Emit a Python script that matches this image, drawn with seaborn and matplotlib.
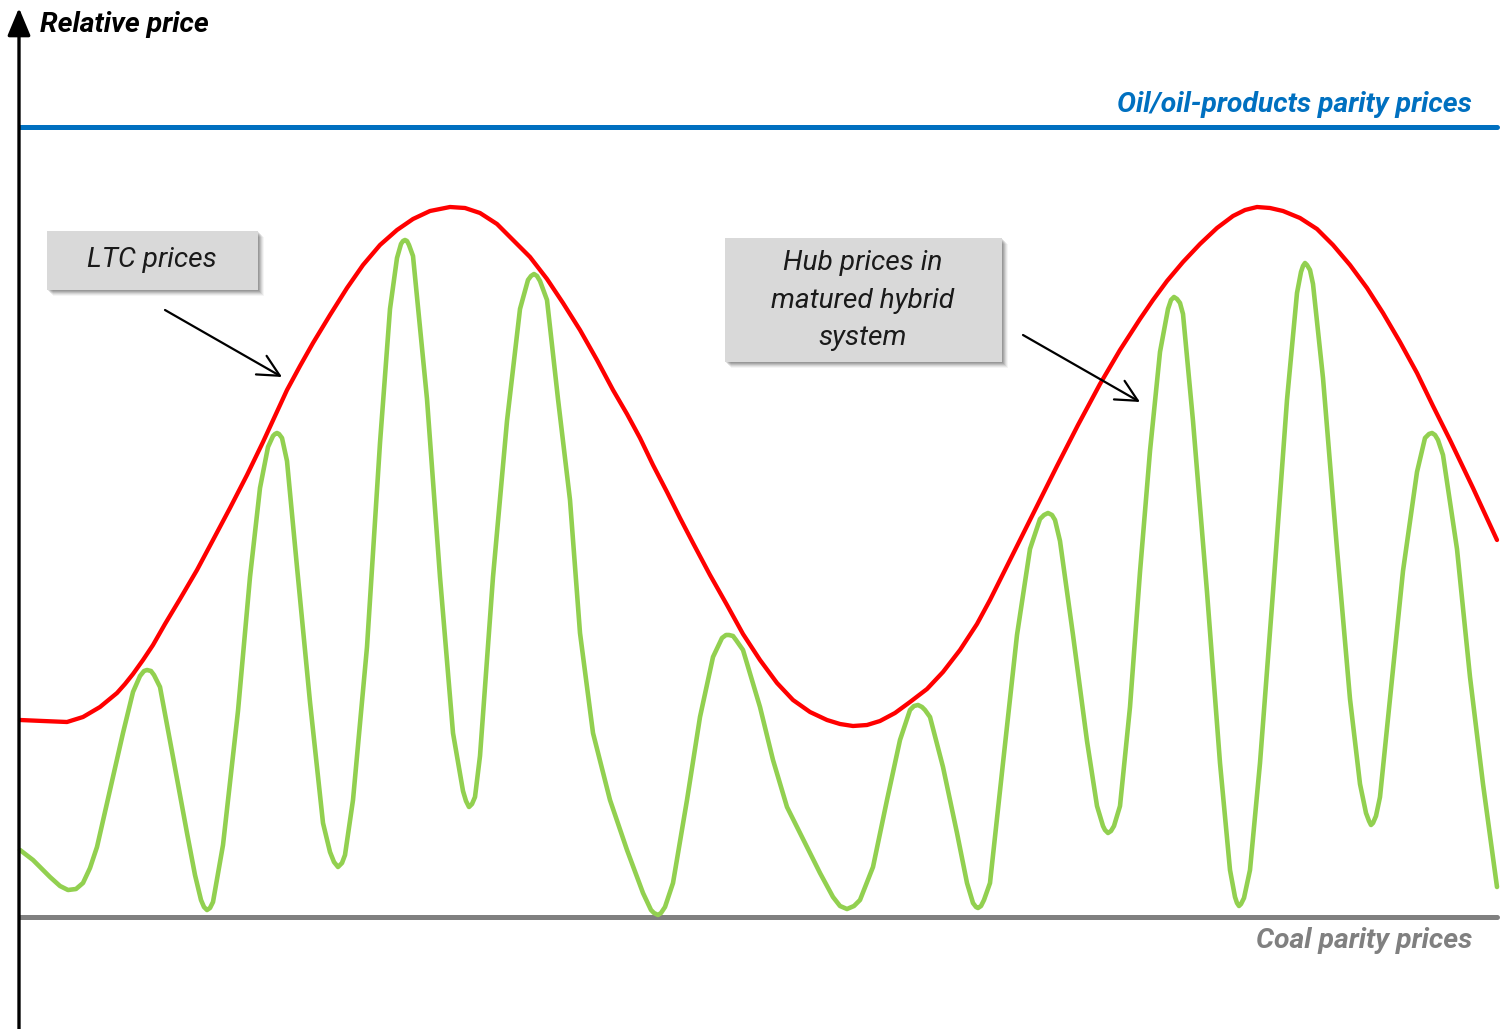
import matplotlib
matplotlib.use("Agg")
import matplotlib.pyplot as plt
from matplotlib import font_manager as fm
from matplotlib.patches import Rectangle
import pandas as pd
import seaborn as sns

# ---------------- data (relative price, coal parity = 0) ----------------
COAL_PARITY = 0
OIL_PARITY = 790

LTC_X = [20, 43, 67, 83, 100, 117, 125, 133, 143, 153, 165, 180, 197, 213, 230, 247,
         263, 275, 287, 300, 313, 330, 347, 363, 380, 397, 413, 430, 450, 465, 480,
         497, 513, 530, 547, 563, 580, 597, 613, 627, 640, 653, 667, 680, 693, 710,
         727, 743, 760, 777, 793, 810, 827, 840, 853, 867, 880, 895, 910, 927, 943,
         960, 977, 990, 1000, 1023, 1057, 1078, 1100, 1120, 1140, 1153, 1167, 1183,
         1200, 1217, 1233, 1245, 1257, 1270, 1283, 1300, 1317, 1333, 1350, 1367,
         1383, 1400, 1417, 1433, 1450, 1473, 1497]
LTC_PRICE = [197, 196, 195, 200, 210, 224, 233, 243, 257, 272, 293, 318, 347, 377, 409, 442,
             475, 501, 527, 551, 574, 602, 629, 652, 672, 687, 698, 706, 710, 709, 704,
             693, 677, 660, 638, 614, 587, 557, 527, 503, 479, 452, 425, 399, 374, 342,
             312, 283, 257, 234, 217, 205, 197, 193, 191, 192, 196, 204, 215, 228, 245,
             267, 293, 317, 337, 383, 451, 492, 533, 567, 598, 617, 636, 655,
             673, 689, 701, 707, 710, 709, 706, 699, 688, 672, 652, 629,
             604, 575, 544, 511, 477, 429, 377]

HUB_X = [20, 33, 50, 60, 68, 76, 83, 90, 97, 110, 123, 133, 140, 144, 147, 151, 154, 160,
         173, 187, 195, 201, 204, 207, 210, 213, 223, 238, 250, 260, 268, 273, 275, 277,
         279, 282, 287, 297, 310, 323, 330, 334, 338, 342, 345, 353, 367, 380, 390, 397,
         401, 403, 405, 407, 409, 413, 427, 440, 453, 463, 466, 469, 472, 475, 480, 493,
         507, 520, 528, 531, 534, 537, 540, 547, 558, 570, 580, 593, 610, 627, 643, 651,
         654, 658, 661, 665, 673, 687, 700, 713, 722, 726, 729, 733, 736, 743, 760, 773,
         787, 800, 820, 833, 840, 847, 854, 860, 873, 887, 900, 910, 914, 918, 922, 925,
         930, 943, 957, 967, 973, 976, 978, 981, 984, 990, 1003, 1017, 1030, 1040, 1044,
         1048, 1052, 1055, 1060, 1073, 1087, 1097, 1103, 1105, 1108, 1111, 1114, 1120,
         1130, 1140, 1150, 1160, 1168, 1171, 1174, 1177, 1180, 1183, 1193, 1207, 1220,
         1230, 1235, 1237, 1239, 1241, 1244, 1250, 1260, 1273, 1287, 1297, 1301, 1303,
         1305, 1307, 1310, 1313, 1323, 1337, 1350, 1360, 1366, 1369, 1371, 1373, 1376,
         1380, 1390, 1403, 1417, 1425, 1429, 1432, 1435, 1438, 1443, 1457, 1470, 1483, 1497]
HUB_PRICE = [67, 57, 40, 31, 27, 28, 34, 49, 70, 127, 184, 225, 241, 246, 247, 246, 242, 230,
             160, 84, 42, 17, 10, 7, 9, 15, 72, 206, 340, 429, 470, 481, 483, 484,
             483, 479, 456, 350, 215, 94, 65, 55, 50, 54, 62, 117, 270, 474, 608, 659,
             673, 676, 677, 676, 672, 661, 518, 340, 184, 126, 116, 110, 113, 120, 161, 340,
             496, 608, 637, 641, 643, 641, 636, 617, 518, 417, 284, 184, 117, 67, 24, 7,
             4, 2, 4, 10, 34, 117, 200, 260, 279, 282, 282, 281, 277, 267, 210, 157,
             110, 84, 44, 20, 11, 8, 11, 17, 50, 117, 177, 207, 211, 212, 210, 207,
             200, 150, 84, 34, 14, 10, 9, 11, 17, 34, 154, 282, 368, 398, 402,
             404, 402, 397, 376, 282, 176, 111, 91, 87, 84, 86, 91, 111,
             210, 345, 466, 565, 608, 617, 620, 618, 614, 603, 496, 325, 154,
             47, 20, 14, 11, 13, 19, 47, 154, 325, 517, 624, 645, 651,
             654, 652, 647, 633, 539, 368, 218, 133, 104, 96, 92, 94, 101,
             120, 218, 346, 445, 479, 483, 484, 482, 477, 462, 368, 240, 133, 30]

AXIS_TITLE = "Relative price"
OIL_LABEL = "Oil/oil-products parity prices"
COAL_LABEL = "Coal parity prices"
LTC_LABEL = "LTC prices"
HUB_LABEL = ["Hub prices in", "matured hybrid", "system"]

# ---------------- style ----------------
sns.set_theme(style="white")
avail = {f.name for f in fm.fontManager.ttflist}
if "Liberation Sans Narrow" in avail:
    FONT, SCALE_B, SCALE_I = "Liberation Sans Narrow", 1.0, 1.0
else:
    FONT, SCALE_B, SCALE_I = "Roboto", 0.91, 0.88
plt.rcParams["font.family"] = [FONT, "DejaVu Sans"]

RED = "#FF0000"
GREEN = "#92D050"
BLUE = "#0070C0"
GREY = "#808080"

W, H = 1501, 1029
fig = plt.figure(figsize=(W / 100, H / 100), dpi=100)
ax = fig.add_axes([0, 0, 1, 1])
TOP = 917          # pixel row of the coal parity line (value 0)

ltc = pd.DataFrame({"x": LTC_X, "price": LTC_PRICE})
hub = pd.DataFrame({"x": HUB_X, "price": HUB_PRICE})

# parity lines
ax.axhline(OIL_PARITY, xmin=20 / W, xmax=1497 / W, color=BLUE, lw=3.6, zorder=2)
ax.axhline(COAL_PARITY, xmin=20 / W, xmax=1497 / W, color=GREY, lw=3.6, zorder=2)

line_kw = dict(sort=False, estimator=None, ax=ax, legend=False,
               solid_joinstyle="round", solid_capstyle="round")
sns.lineplot(data=hub, x="x", y="price", color=GREEN, lw=3.3, zorder=3, **line_kw)
sns.lineplot(data=ltc, x="x", y="price", color=RED, lw=3.1, zorder=4, **line_kw)
ax.set_xlim(0, W)
ax.set_ylim(TOP - H, TOP)
ax.axis("off")

# vertical axis with arrow
ax.annotate("", xy=(19, TOP - 8), xytext=(19, TOP - H),
            arrowprops=dict(arrowstyle="-|>,head_length=0.6,head_width=0.25",
                            mutation_scale=28, lw=2.4, color="black",
                            shrinkA=0, shrinkB=0), zorder=6)

bold_it = dict(fontweight="bold", fontstyle="italic", fontsize=22.5 * SCALE_B)
ax.text(40, TOP - 24, AXIS_TITLE, ha="left", va="center", color="black", **bold_it)
ax.text(1472, TOP - 105, OIL_LABEL, ha="right", va="center", color=BLUE, **bold_it)
ax.text(1472, TOP - 941, COAL_LABEL, ha="right", va="center", color=GREY, **bold_it)


def box(x0, y0, x1, y1):
    # soft drop shadow
    for i, a in enumerate([0.10, 0.10, 0.10, 0.08, 0.06, 0.04]):
        d = i + 1
        ax.add_patch(Rectangle((x0 + d, TOP - y1 - d), x1 - x0, y1 - y0,
                               facecolor="black", edgecolor="none", alpha=a, zorder=7))
    ax.add_patch(Rectangle((x0, TOP - y1), x1 - x0, y1 - y0,
                           facecolor="#D9D9D9", edgecolor="none", zorder=8))


box(47, 231, 258, 290)
box(725, 238, 1002, 362)

it = dict(fontstyle="italic", fontsize=23 * SCALE_I, color="#1a1a1a", zorder=9)
ax.text(152, TOP - 260, LTC_LABEL, ha="center", va="center", **it)
for i, line in enumerate(HUB_LABEL):
    ax.text(863, TOP - (263 + 37.5 * i), line, ha="center", va="center", **it)

arrow = dict(arrowstyle="->,head_length=0.7,head_width=0.35", mutation_scale=22,
             lw=1.6, color="black", shrinkA=0, shrinkB=0)
ax.annotate("", xy=(282, TOP - 377), xytext=(165, TOP - 310), arrowprops=arrow, zorder=10)
ax.annotate("", xy=(1140, TOP - 402), xytext=(1023, TOP - 335), arrowprops=arrow, zorder=10)

fig.savefig("out.png", dpi=100, facecolor="white")
